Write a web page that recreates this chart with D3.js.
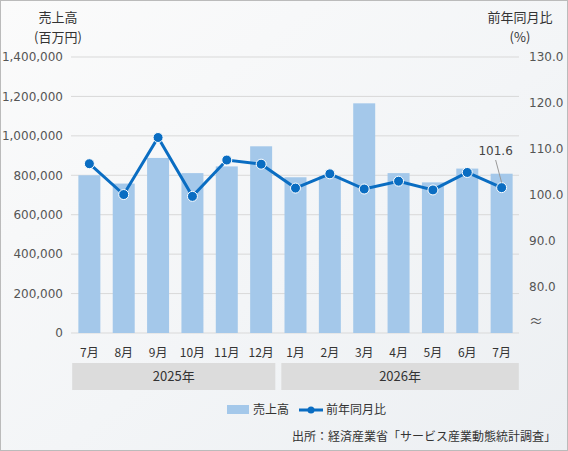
<!DOCTYPE html>
<html lang="ja">
<head>
<meta charset="UTF-8">
<script src="https://d3js.org/d3.v7.min.js"></script>
<style>
  body { margin: 0; background: #fff; }
  text { font-family: "Noto Sans CJK JP", "Noto Sans", sans-serif; fill: #333; }
  .tick text { font-family: Verdana, "DejaVu Sans", sans-serif; fill: #555; font-size: 12px; }
</style>
</head>
<body>
<svg width="568" height="451"></svg>
<script>
const months = ["7月","8月","9月","10月","11月","12月","1月","2月","3月","4月","5月","6月","7月"];
const sales = [800000, 758000, 888000, 811000, 845000, 947000, 790000, 795000, 1165000, 811000, 764000, 834000, 808000];
const yoy = [106.8, 100.1, 112.5, 99.7, 107.6, 106.7, 101.5, 104.6, 101.3, 103.0, 101.1, 104.9, 101.6];
const years = [{ label: "2025年", from: 0, to: 5 }, { label: "2026年", from: 6, to: 12 }];
const leftTicks = [0, 200000, 400000, 600000, 800000, 1000000, 1200000, 1400000];
const rightTicks = [80, 90, 100, 110, 120, 130];

const svg = d3.select("svg");
const defs = svg.append("defs");
const grad = defs.append("linearGradient").attr("id", "bg").attr("x1", 0).attr("y1", 0).attr("x2", 1).attr("y2", 1);
grad.append("stop").attr("offset", "0%").attr("stop-color", "#fbfbfb");
grad.append("stop").attr("offset", "55%").attr("stop-color", "#f3f5f7");
grad.append("stop").attr("offset", "100%").attr("stop-color", "#eceff2");
svg.append("rect").attr("x", 0.5).attr("y", 0.5).attr("width", 567).attr("height", 450)
  .attr("fill", "url(#bg)").attr("stroke", "#bbb");

const x = d3.scaleBand().domain(d3.range(months.length)).range([66, 525]).padding(0.36);
const yL = d3.scaleLinear().domain([0, 1400000]).range([333, 57]);
const yR = d3.scaleLinear().domain([70, 130]).range([333, 57]);

// grid
svg.append("g").selectAll("line").data(leftTicks).join("line")
  .attr("x1", 71).attr("x2", 519).attr("y1", d => yL(d)).attr("y2", d => yL(d))
  .attr("stroke", "#d9d9d9");

// axes
const gl = svg.append("g").attr("transform", "translate(66,0)")
  .call(d3.axisLeft(yL).tickValues(leftTicks).tickSize(0).tickFormat(d3.format(",")));
gl.select(".domain").remove();
const gr = svg.append("g").attr("transform", "translate(526,0)")
  .call(d3.axisRight(yR).tickValues(rightTicks).tickSize(0).tickFormat(d3.format(".1f")));
gr.select(".domain").remove();
svg.append("text").attr("x", 536).attr("y", 326).attr("text-anchor", "middle")
  .style("font-size", "14px").style("fill", "#555").text("≈");

// bars
svg.append("g").selectAll("rect").data(sales).join("rect")
  .attr("x", (d, i) => x(i)).attr("width", x.bandwidth())
  .attr("y", d => yL(d)).attr("height", d => yL(0) - yL(d))
  .attr("fill", "#a4c8ea");

// line
const cx = i => x(i) + x.bandwidth() / 2;
svg.append("path").datum(yoy)
  .attr("d", d3.line().x((d, i) => cx(i)).y(d => yR(d)))
  .attr("fill", "none").attr("stroke", "#0a6dc2").attr("stroke-width", 3);
svg.append("g").selectAll("circle").data(yoy).join("circle")
  .attr("cx", (d, i) => cx(i)).attr("cy", d => yR(d)).attr("r", 5)
  .attr("fill", "#0a6dc2").attr("stroke", "#fff").attr("stroke-width", 1);

// last value label
const li = yoy.length - 1;
svg.append("line").attr("x1", cx(li) - 6).attr("y1", 160).attr("x2", cx(li)).attr("y2", yR(yoy[li]) - 5)
  .attr("stroke", "#999");
svg.append("text").attr("x", cx(li) - 6).attr("y", 155).attr("text-anchor", "middle")
  .style("font-size", "12px").style("font-family", "Verdana, DejaVu Sans, sans-serif").style("fill", "#444")
  .text(d3.format(".1f")(yoy[li]));

// month labels
svg.append("g").selectAll("text").data(months).join("text")
  .attr("x", (d, i) => cx(i)).attr("y", 357).attr("text-anchor", "middle")
  .style("font-size", "12px").text(d => d);

// year bands
const step = x.step();
years.forEach(yr => {
  const x0 = Math.max(72, cx(yr.from) - step / 2 + (yr.from === 0 ? 0 : 3));
  const x1 = Math.min(522, cx(yr.to) + step / 2 - (yr.from === 0 ? 3 : 0));
  svg.append("rect").attr("x", x0).attr("y", 363).attr("width", x1 - x0).attr("height", 27).attr("fill", "#dcdcdc");
  svg.append("text").attr("x", (x0 + x1) / 2).attr("y", 381).attr("text-anchor", "middle")
    .style("font-size", "13px").text(yr.label);
});

// axis titles
svg.append("text").attr("x", 58).attr("y", 22).attr("text-anchor", "middle").style("font-size", "13px").text("売上高");
svg.append("text").attr("x", 58).attr("y", 42).attr("text-anchor", "middle").style("font-size", "13px").text("(百万円)");
svg.append("text").attr("x", 520).attr("y", 22).attr("text-anchor", "middle").style("font-size", "13px").text("前年同月比");
svg.append("text").attr("x", 520).attr("y", 42).attr("text-anchor", "middle").style("font-size", "13px").text("(%)");

// legend
const lg = svg.append("g").attr("transform", "translate(227,410)");
lg.append("rect").attr("x", 0).attr("y", -5).attr("width", 22).attr("height", 9).attr("fill", "#a4c8ea");
lg.append("text").attr("x", 26).attr("y", 4).style("font-size", "12px").text("売上高");
lg.append("line").attr("x1", 72).attr("x2", 96).attr("y1", 0).attr("y2", 0).attr("stroke", "#0a6dc2").attr("stroke-width", 3);
lg.append("circle").attr("cx", 84).attr("cy", 0).attr("r", 3.5).attr("fill", "#0a6dc2");
lg.append("text").attr("x", 99).attr("y", 4).style("font-size", "12px").text("前年同月比");

// source
svg.append("text").attr("x", 556).attr("y", 441).attr("text-anchor", "end")
  .style("font-size", "12px").text("出所：経済産業省「サービス産業動態統計調査」");
</script>
</body>
</html>
